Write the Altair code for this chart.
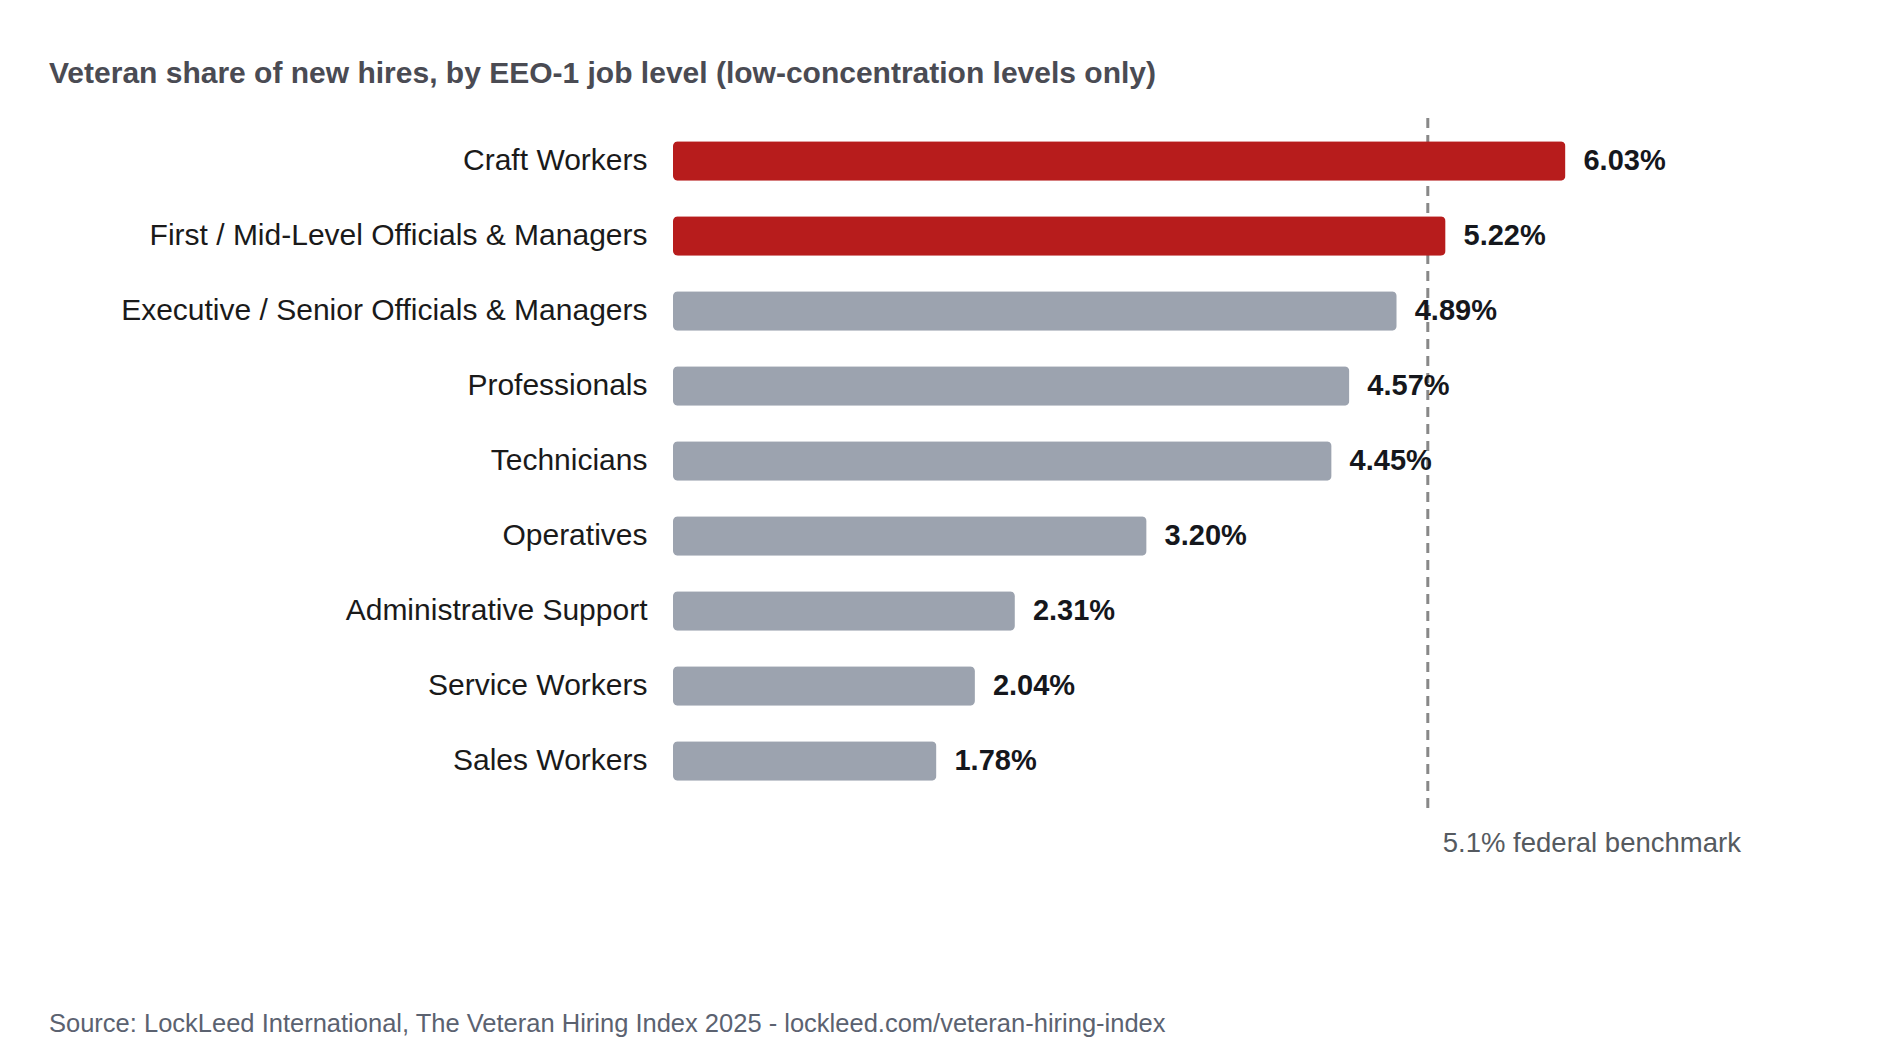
import altair as alt
import pandas as pd

FONT = "Liberation Sans, Arial, Helvetica, sans-serif"

categories = [
    "Craft Workers",
    "First / Mid-Level Officials & Managers",
    "Executive / Senior Officials & Managers",
    "Professionals",
    "Technicians",
    "Operatives",
    "Administrative Support",
    "Service Workers",
    "Sales Workers",
]
values = [6.03, 5.22, 4.89, 4.57, 4.45, 3.20, 2.31, 2.04, 1.78]
benchmark = 5.1
benchmark_label = "5.1% federal benchmark"
title_text = "Veteran share of new hires, by EEO-1 job level (low-concentration levels only)"
source_text = "Source: LockLeed International, The Veteran Hiring Index 2025 - lockleed.com/veteran-hiring-index"

RED = "#b71c1c"
GRAY = "#9ca3af"

df = pd.DataFrame({
    "category": categories,
    "value": values,
    "label": [f"{v:.2f}%" for v in values],
})
bench_df = pd.DataFrame({"bench": [benchmark], "blabel": [benchmark_label]})
title_df = pd.DataFrame({"t": [title_text]})
source_df = pd.DataFrame({"t": [source_text]})

W, H = 1100, 675
XMAX = W / 148.0

xscale = alt.Scale(domain=[0, XMAX], nice=False, zero=True)
yenc = alt.Y(
    "category:N",
    sort=categories,
    scale=alt.Scale(paddingInner=0.475, paddingOuter=0.2375),
    axis=alt.Axis(
        title=None, ticks=False, domain=False, grid=False,
        labelFontSize=30, labelColor="#1a1a1a", labelFont=FONT,
        labelPadding=26, labelLimit=800,
    ),
)

base = alt.Chart(df)

bars = base.mark_bar(cornerRadius=5).encode(
    y=yenc,
    x=alt.X("value:Q", scale=xscale, axis=None),
    color=alt.condition(f"datum.value > {benchmark}", alt.value(RED), alt.value(GRAY)),
)

labels = base.mark_text(
    align="left", baseline="middle", dx=18, fontSize=29, fontWeight="bold",
    color="#15171c", font=FONT,
).encode(
    y=yenc,
    x=alt.X("value:Q", scale=xscale, axis=None),
    text="label:N",
)

rule = alt.Chart(bench_df).mark_rule(
    strokeDash=[10, 7], strokeWidth=3, color="#888888"
).encode(
    x=alt.X("bench:Q", scale=xscale, axis=None),
    y=alt.value(-5.5),
    y2=alt.value(686.5),
)

bench_text = alt.Chart(bench_df).mark_text(
    align="left", baseline="alphabetic", dx=15, fontSize=27.5,
    color="#555a60", font=FONT,
).encode(
    x=alt.X("bench:Q", scale=xscale, axis=None),
    y=alt.value(728.5),
    text="blabel:N",
)

title = alt.Chart(title_df).mark_text(
    align="left", baseline="alphabetic", fontSize=30, fontWeight="bold",
    color="#4a4b53", font=FONT,
).encode(x=alt.value(-624), y=alt.value(-40.5), text="t:N")

source = alt.Chart(source_df).mark_text(
    align="left", baseline="alphabetic", fontSize=25.5,
    color="#5b6270", font=FONT,
).encode(x=alt.value(-624), y=alt.value(908.5), text="t:N")

chart = alt.layer(rule, bars, labels, bench_text, title, source).properties(
    width=W, height=H,
    autosize="none",
    background="white",
    padding={"left": 665, "top": 115.5, "right": 100, "bottom": 257.5},
).configure_view(stroke=None)

chart.save("out.html", embed_options={"renderer": "svg", "actions": False})
